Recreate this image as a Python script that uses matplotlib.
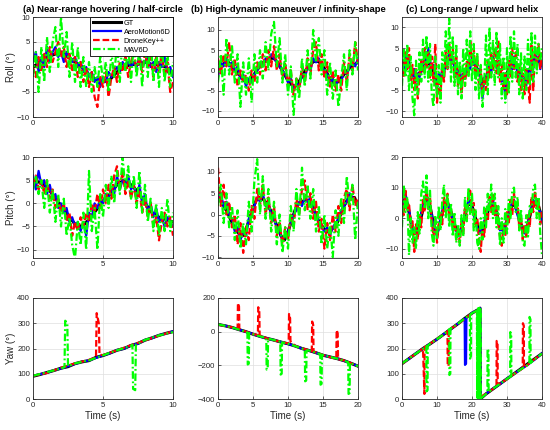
import numpy as np
import matplotlib
matplotlib.use('Agg')
import matplotlib.pyplot as plt

plt.rcParams['font.family'] = ['Liberation Sans', 'DejaVu Sans']

# ---------------- data ----------------
series_names = ['GT', 'AeroMotion6D', 'DroneKey++', 'MAV6D']
titles = ['(a) Near-range hovering / half-circle',
          '(b) High-dynamic maneuver / infinity-shape',
          '(c) Long-range / upward helix']
durations = [10, 20, 40]

# Roll (a)
roll_a_gt = [0, 1, 2, 2.5, 3, 2, 1, 0, -1.5, -2.5, -3, -2.5, -1, 0, 0.5, 0.5, 1, 0.5, 0.5, 0, -1.5]
roll_a_blue = [1, 3, -1, 2, 0, 4, 1, 3, 4, 2, 3, 1, 3, 2, 1, 2, 0, 1, -1, 0, -2, -1, -3, -2, -4, -2, -3, -1, -2, -1,
               0, -1, 1, 0, 1, 0, 1, 0, 2, 0, 1, 2, 0, 1, -1, 1, 0, 2, -1, 0, -2]
roll_a_red = [0, -2, 2, -1, 3, 0, 4, 1, 3, 5, 2, 4, 0, 3, -1, 2, -2, 1, -3, 0, -4, -1, -6, -8, -2, -4, -1, -6, -2, 0,
              -3, 1, -1, 2, -2, 1, 3, -1, 2, -1, 3, 0, 2, -2, 2, -1, 3, -2, 1, -5, -3]
roll_a_green = [-2, 3, -5, 4, -3, 6, -1, 5, 8, 0, 10, 2, 7, -2, 5, -3, 4, -4, 2, -4, 1, -5, 0, -4, 2, -3, 1, -5, 3, -2,
                5, -3, 6, -1, 4, -3, 5, -2, 4, -4, 5, -2, 6, -3, 4, -4, 5, -3, 3, -4, 1]

# Pitch (a)
pitch_a_gt = [5, 4.5, 3.5, 1.5, -0.5, -2.5, -4.5, -5, -3.5, -1.5, 0.5, 2, 4, 5, 4, 2.5, 0, -2, -3, -3.5, -4]
pitch_a_blue = [6, 3, 7, 4, 5, 2, 4, 1, 2, -1, 0, -2, -1, -4, -3, -5, -4, -6, -4, -7, -2, -3, 0, -1, 1, 0, 2, 1, 3, 2,
                6, 3, 5, 4, 6, 3, 4, 1, 4, 0, 2, -2, 0, -3, -1, -4, -3, -5, -3, -4, -5]
pitch_a_red = [4, 6, 3, 5, 2, 5, 1, 3, -1, 1, -2, 0, -4, -2, -7, -4, -6, -3, -5, -2, -4, 0, -2, 2, -1, 3, 0, 4, 1, 6,
               8, 3, 7, 2, 5, 1, 4, 0, 3, -2, 1, -3, 0, -5, -3, -8, -4, -2, -5, -3, -7]
pitch_a_green = [3, 6, 2, 5, -1, 5, -2, 3, -4, 2, -5, 1, -7, -3, -9, -12, -4, -9, -2, -10, 7, -6, -1, -10, 2, -3, 4, -1, 6, 0,
                 7, 2, 10, 3, 8, 1, 6, -1, 7, -2, 4, -4, 1, -6, 0, -7, -1, -6, 1, -6, -2]

# Roll (b)
roll_b_gt = [0, 1, 2, 2, 1, 0, -1, -2, -3, -2.5, -1.5, 0, 1, 2, 2.5, 3, 3, 2, 0.5, -1, -2.5, -3.5, -4, -3, -1.5, 0, 1, 2,
             2.5, 2, 1, -0.5, -2, -3, -3, -2, -1, 0, 1, 1.5, 2]
roll_b_blue = [-1.5, 2, 1, 3, 1, 2, 0, 1, -2, -1, -4, -2, -3, -1, 0, 2, 1, 3, 2, 4, 3, 2, 1, 0, -1, -3, -2, -5, -3, -4,
               -1, -2, 1, 0, 3, 2, 3, 1, 0, -1, -3, -2, -4, -2, -3, 0, -1, 1, 2, 1, 3]
roll_b_red = [3, -1, 4, 1, 7, -1, 3, -4, 0, -3, -1, -5, 0, -3, 2, -1, 4, 0, 5, 1, 6, 0, 4, -2, 2, -4, 0, -6, -2, -5,
              1, -3, 3, -1, 5, 7, 0, 4, -2, 2, -4, 0, -5, -1, -5, 2, -3, 4, 0, 7, 2]
roll_b_green = [-3, 4, -6, 8, -1, 6, -3, 4, -9, 2, -6, 3, -8, 4, -3, 5, -2, 7, 0, 9, 12, 1, 8, -3, 4, -6, 1, -11, -2, -7,
                3, -4, 5, -2, 10, 2, 8, -1, 5, -6, 2, -7, 0, -9, -2, 4, -5, 5, -1, 7, 0]

# Pitch (b)
pitch_b_gt = [4, 3, 1.5, 0, -2, -3.5, -4.5, -5, -3.5, -1, 1.5, 3.5, 4, 3.5, 2.5, 1, -1, -3, -5, -6, -4, -1.5, 1, 2.5, 3,
              3.5, 3, 2, 0, -2, -3, -4, -4, -3, -2, 0, 2, 3.5, 4, 4, 2]
pitch_b_blue = [4, 5, 2, 3, 0, -1, -4, -3, -6, -4, -5, -1, 0, 2, 4, 3, 5, 2, 3, 0, -1, -3, -4, -6, -5, -4, -2, 0, 1, 3,
                2, 4, 3, 4, 1, 0, -2, -3, -4, -3, -5, -3, -2, -1, 1, 2, 3, 5, 4, 3, 2]
pitch_b_red = [11, 2, 7, 0, 3, -3, 0, -7, -2, -9, -3, -6, 2, -1, 6, 2, 7, 0, 4, -2, 2, -5, -2, -7, -3, -6, 0, -3, 4, 0,
               6, 8, 1, 5, -1, 3, -4, -1, -8, -2, -6, 0, -4, 2, -2, 4, 6, 1, 7, 2, 4]
pitch_b_green = [2, 7, -2, 5, -3, 2, -6, 1, -8, -2, -7, 3, -4, 8, 13, 0, 9, -1, 6, -4, 3, -7, 0, -9, -3, -8, 2, -4, 6, -1,
                 11, 1, 7, -1, 6, -4, 2, -7, 0, -8, -2, -10, 1, -5, 4, -2, 9, 2, 7, -6, 3]

# Roll (c)
roll_c_gt = [0, 2, 1, -1, -2, -1, 1, 2, 1, -1, -3, -2, 0, 2, 3, 1, -1, -2, -1, 1, 2, 1, -1, -3, -2, 0, 2, 1, -1, -2,
             -1, 1, 2, 0, -2, -3, -1, 1, 3, 2, 1]
roll_c_blue = [1, -1, 3, 1, 2, 0, -2, 0, -3, -1, -2, 0, 1, 3, 1, 5, 2, 0, 1, -2, -5, -1, -3, 0, -1, 2, 1, 4, 2, 3,
               0, 1, -2, 0, -3, -1, -2, 0, 2, 0, 3, 1, 2, -1, 0, -3, -7, -2, -3, 0, 1, -1, 3, 1, 2, -1, 0, -3, -1, -7,
               -2, 0, 2, 0, 3, 1, -1, -2, -1, -4, -2, -4, 0, -3, 2, 0, 4, 2, 3, 0, 2]
roll_c_red = [2, -2, 4, 0, 5, -3, 1, -5, 0, -7, -2, 2, -1, 5, 0, 4, -2, 3, -3, 6, -8, -3, -6, 1, -3, 4, 0, 6, 1, 5,
              -2, 3, -4, 0, -6, -1, -4, 2, -1, 7, 1, 5, -1, 3, -4, 0, -6, -2, -5, 2, -2, 4, 0, 5, -1, 7, -3, 1, -5, -1,
              -6, 2, -2, 5, 0, 4, -3, 1, -5, -1, -6, 0, -3, -8, 6, -5, 5, 1, 6, 0, 4]
roll_c_green = [-4, 5, -2, 6, -5, 3, -7, -11, 2, -6, 4, -3, 7, -2, 8, -3, 6, -6, -9, 3, -7, 1, -8, 4, -2, 9, 0, 12, -3, 8,
                -4, 6, -6, 2, -7, 5, -4, 7, -2, 9, -3, 6, -5, 4, -7, 1, -9, -3, 8, -6, 10, -2, 7, -4, 9, -2, 6, -7, 3, -8,
                5, -6, 8, -3, 9, -2, 6, -6, 4, -7, 3, -5, 7, -4, 9, -3, 8, -1, 6, 2, 5]

# Pitch (c)
pitch_c_gt = [3, 7, 2, -4, -5, -2, 3, 7, 4, -2, -5, -1, 4, 5, 2, -2, -5, -4, 1, 5, 4, 0, -4, -4, 0, 4, 5, 2, -3, -4,
              -1, 3, 5, 2, -2, -4, -2, 3, 5, 4, 0]
pitch_c_blue = [5, 4, 8, 5, 3, -1, -3, -5, -4, -6, -1, 2, 4, 6, 8, 5, 3, 1, -3, -4, -6, -3, 0, 2, 5, 4, 6, 3, 1, 0,
                -3, -4, -6, -4, -3, -1, 2, 3, 6, 5, 3, 1, -1, -3, -5, -4, -3, -1, 1, 3, 5, 4, 6, 3, 1, -1, -4, -3, -5, -2,
                0, 2, 4, 5, 6, 3, 1, -1, -3, -4, -5, -3, -1, 2, 4, 6, 5, 6, 3, 2, -1]
pitch_c_red = [6, 1, 9, 3, 5, -3, -1, -11, -2, -7, 1, -3, 6, 2, 10, 3, 7, -1, -6, 0, -8, -2, 2, -2, 7, 2, 8, 0, 3, -3,
               -1, -7, -3, -8, -1, -5, 4, 0, 8, 9, 2, 5, -3, 0, -7, -11, -2, -6, 3, -1, 7, 2, 8, 1, 4, -2, -6, -9, -2, -6,
               2, -2, 6, 1, 8, 3, 5, -3, 0, -7, -2, -6, 1, -3, 7, 2, 9, 3, 6, -2, 2]
pitch_c_green = [-3, 11, 2, 7, -12, 0, -8, -3, -10, 2, -5, 8, 12, 3, 14, 0, 9, -5, -9, 1, -7, 4, -4, 6, 11, 0, 8, -3, 5, -6,
                 2, -8, -2, -9, 1, -6, 7, -1, 10, 1, 8, -4, 3, -8, -10, 0, -7, 4, -3, 8, 2, 11, 0, 8, -3, 4, -9, 0, -8, 3,
                 -5, 6, 0, 9, 10, 2, 7, -4, 3, -8, -9, 1, -6, 4, 2, 10, 11, 0, 7, -5, -12]

# Yaw (a)
yaw_a_gt = [90, 97, 105, 113, 122, 128, 140, 147, 152, 165, 172, 182, 193, 200, 212, 220, 233, 242, 252, 260, 267]
yaw_a_blue = [92, 98, 104, 114, 121, 130, 139, 148, 153, 163, 173, 181, 194, 199, 213, 219, 234, 241, 253, 259, 268]
yaw_a_red_t = [0, 1, 2, 3, 4, 4.5, 4.55, 4.7, 4.75, 5, 6, 7, 8, 9, 10]
yaw_a_red = [92, 103, 124, 141, 155, 165, 340, 300, 175, 174, 193, 213, 232, 251, 268]
yaw_a_green_t = [0, 1, 2, 2.25, 2.3, 2.45, 2.5, 3, 4, 5, 6, 7, 7.1, 7.15, 7.3, 7.35, 8, 9, 10]
yaw_a_green = [92, 106, 121, 126, 310, 300, 130, 141, 153, 173, 193, 210, 215, 40, 35, 215, 234, 252, 265]

# Yaw (b)
yaw_b_gt = [43, 35, 25, 12, 0, -15, -28, -40, -50, -62, -72, -85, -100, -112, -125, -140, -150, -160, -172, -188, -205]
yaw_b_blue = [42, 36, 24, 13, -1, -14, -29, -39, -51, -61, -73, -84, -101, -111, -126, -139, -151, -159, -173, -187, -204]
yaw_b_red_t = [0, 1, 2, 2.8, 2.85, 3.0, 3.05, 4, 5, 5.7, 5.75, 5.9, 5.95, 7, 8, 9, 10, 10.1, 10.15, 10.3, 10.35,
               11, 12, 13, 13.4, 13.45, 13.6, 13.65, 14, 15, 16, 16.9, 16.95, 17.1, 17.15, 18, 19, 20]
yaw_b_red = [42, 34, 26, 15, 170, 150, 14, 0, -14, -20, 145, 120, -22, -40, -51, -61, -70, -56, 105, 80, -58,
             -84, -99, -110, -117, 60, 40, -119, -124, -139, -151, -161, 10, -10, -163, -171, -187, -204]
yaw_b_green_t = [0, 1, 2, 3, 4, 4.2, 4.25, 4.4, 4.45, 5, 6, 6.9, 6.95, 7.1, 7.15, 8, 8.9, 8.95, 9.1, 9.15, 10, 11, 12,
                 12.4, 12.45, 12.6, 12.65, 13, 14, 14.6, 14.65, 14.8, 14.85, 15, 16, 17, 18, 18.6, 18.65, 18.8, 18.85, 19, 20]
yaw_b_green = [43, 35, 25, 12, 0, -5, -195, -190, -8, -15, -28, -38, -225, -220, -41, -50, -60, -255, -250, -63, -72, -85,
               -100, -108, -295, -290, -111, -112, -125, -134, -315, -310, -136, -140, -150, -160, -172, -182, -370, -365,
               -184, -188, -205]

# Yaw (c)
yaw_c_gt_t = [0, 2, 4, 6, 8, 10, 12, 14, 16, 18, 20, 22, 22.3, 22.35, 24, 26, 28, 30, 32, 34, 36, 38, 40]
yaw_c_gt = [140, 160, 180, 200, 218, 237, 257, 278, 298, 320, 340, 356, 360, 0, 20, 40, 60, 80, 100, 120, 140, 160, 180]
yaw_c_blue_t = [0, 2, 4, 6, 8, 10, 12, 14, 16, 17.9, 18.0, 18.3, 18.4, 20, 22, 22.3, 22.35, 24, 26, 28, 30, 32, 34, 36,
                38, 40]
yaw_c_blue = [141, 159, 181, 199, 219, 236, 258, 277, 299, 318, 135, 140, 321, 341, 355, 360, 2, 21, 41, 59, 81, 99, 118,
              136, 157, 181]
yaw_c_red_t = [0, 2, 4, 6, 6.4, 6.45, 8, 10, 12, 13.0, 13.05, 13.3, 13.35, 14, 16, 18, 20, 21.7, 21.75, 24, 26,
               27.0, 27.05, 27.3, 27.35, 28, 30, 32, 34, 34.5, 34.55, 34.8, 34.85, 36, 38, 40]
yaw_c_red = [139, 161, 179, 200, 20, 205, 219, 238, 256, 268, 140, 130, 272, 279, 297, 319, 339, 352, 3, 21, 40,
             52, 230, 220, 55, 61, 79, 99, 117, 122, 300, 290, 125, 137, 159, 179]
yaw_c_green_t = [0, 2, 4, 6, 6.95, 7.0, 7.3, 7.35, 8, 10, 12, 13.5, 13.55, 13.8, 13.85, 14, 16, 18, 19.4, 19.45, 19.7,
                 19.75, 20, 21.4, 21.5, 21.6, 21.7, 21.8, 21.9, 22.0, 22.1, 22.2, 22.3, 22.4, 22.5, 22.6, 24, 24.4, 24.45,
                 24.7, 24.75, 26, 28, 30, 30.9, 30.95, 31.2, 31.25, 32, 34, 36, 36.4, 36.45, 36.7, 36.75, 38, 40]
yaw_c_green = [141, 160, 180, 199, 209, 30, 35, 211, 219, 237, 257, 276, 95, 100, 278, 280, 299, 320, 334, 160, 170, 337,
               340, 350, 5, 358, 3, 360, 0, 360, 2, 358, 0, 360, 5, 3, 20, 24, 200, 190, 27, 41, 60, 80, 88, 265, 255, 90,
               99, 118, 135, 140, 325, 315, 143, 158, 180]

# ---------------- styling ----------------
C_GT, C_B, C_R, C_G = 'black', (0, 0, 1), (1, 0, 0), (0, 1, 0)
LW_GT, LW = 2.2, 1.6


def even_t(vals, T):
    return np.linspace(0, T, len(vals))


def draw(ax, gt, blue, red, green):
    l0, = ax.plot(gt[0], gt[1], color=C_GT, lw=LW_GT, label=series_names[0])
    l1, = ax.plot(blue[0], blue[1], color=C_B, lw=LW, label=series_names[1])
    l2, = ax.plot(red[0], red[1], color=C_R, lw=LW, ls=(0, (3.0, 1.3)), label=series_names[2])
    l3, = ax.plot(green[0], green[1], color=C_G, lw=LW, ls=(0, (3.4, 1.2, 0.8, 1.2)), label=series_names[3])
    return [l0, l1, l2, l3]


def style(ax, T, ylim, yticks, xticks):
    ax.set_xlim(0, T)
    ax.set_ylim(*ylim)
    ax.set_xticks(xticks)
    ax.set_yticks(yticks)
    ax.grid(True, color='#dedede', lw=0.5)
    ax.set_axisbelow(True)
    ax.tick_params(direction='in', length=2.5, width=0.5, labelsize=5.6, colors='#262626', pad=2)
    for s in ax.spines.values():
        s.set_linewidth(0.6)
        s.set_color('#262626')


fig = plt.figure(figsize=(5.5, 4.3), dpi=100)
W, H = 550.0, 430.0
col_left = [33, 218, 402]
row_tb = [(17, 117), (157, 258), (298, 399)]
axes = [[None] * 3 for _ in range(3)]
for r in range(3):
    for c in range(3):
        t, b = row_tb[r]
        axes[r][c] = fig.add_axes([col_left[c] / W, 1 - b / H, 140 / W, (b - t) / H])

xt = [[0, 5, 10], [0, 5, 10, 15, 20], [0, 10, 20, 30, 40]]

rolls = [(roll_a_gt, roll_a_blue, roll_a_red, roll_a_green),
         (roll_b_gt, roll_b_blue, roll_b_red, roll_b_green),
         (roll_c_gt, roll_c_blue, roll_c_red, roll_c_green)]
pitches = [(pitch_a_gt, pitch_a_blue, pitch_a_red, pitch_a_green),
           (pitch_b_gt, pitch_b_blue, pitch_b_red, pitch_b_green),
           (pitch_c_gt, pitch_c_blue, pitch_c_red, pitch_c_green)]
roll_ylim = [(-10, 10), (-11.5, 13.2), (-11.4, 12.4)]
pitch_ylim = [(-11.8, 10), (-10.2, 13.5), (-13, 20)]
pitch_yt = [[-10, -5, 0, 5, 10], [-10, -5, 0, 5, 10], [-10, 0, 10, 20]]

handles = None
for c in range(3):
    T = durations[c]
    g, bl, rd, gr = rolls[c]
    h = draw(axes[0][c], (even_t(g, T), g), (even_t(bl, T), bl), (even_t(rd, T), rd), (even_t(gr, T), gr))
    if c == 0:
        handles = h
    style(axes[0][c], T, roll_ylim[c], [-10, -5, 0, 5, 10], xt[c])
    g, bl, rd, gr = pitches[c]
    draw(axes[1][c], (even_t(g, T), g), (even_t(bl, T), bl), (even_t(rd, T), rd), (even_t(gr, T), gr))
    style(axes[1][c], T, pitch_ylim[c], pitch_yt[c], xt[c])

draw(axes[2][0], (even_t(yaw_a_gt, 10), yaw_a_gt), (even_t(yaw_a_blue, 10), yaw_a_blue),
     (yaw_a_red_t, yaw_a_red), (yaw_a_green_t, yaw_a_green))
style(axes[2][0], 10, (0, 400), [0, 100, 200, 300, 400], xt[0])
draw(axes[2][1], (even_t(yaw_b_gt, 20), yaw_b_gt), (even_t(yaw_b_blue, 20), yaw_b_blue),
     (yaw_b_red_t, yaw_b_red), (yaw_b_green_t, yaw_b_green))
style(axes[2][1], 20, (-400, 200), [-400, -200, 0, 200], xt[1])
draw(axes[2][2], (yaw_c_gt_t, yaw_c_gt), (yaw_c_blue_t, yaw_c_blue),
     (yaw_c_red_t, yaw_c_red), (yaw_c_green_t, yaw_c_green))
style(axes[2][2], 40, (0, 400), [0, 100, 200, 300, 400], xt[2])

for r, lab in enumerate(['Roll (°)', 'Pitch (°)', 'Yaw (°)']):
    axes[r][0].set_ylabel(lab, fontsize=7, color='#262626', labelpad=1)
for c in range(3):
    axes[2][c].set_xlabel('Time (s)', fontsize=7, color='#262626', labelpad=1.5)
    x0 = (col_left[c] + 70) / W
    fig.text(x0, 1 - 9.5 / H, titles[c], ha='center', va='center', fontsize=6.8, fontweight='bold')

leg = axes[0][0].legend(handles=handles, loc='upper right', fontsize=5.3, borderaxespad=0,
                        handlelength=3.8, labelspacing=0.25, handletextpad=0.4, borderpad=0.35,
                        fancybox=False, edgecolor='black', framealpha=1)
leg.get_frame().set_linewidth(0.6)

fig.savefig('out.png', dpi=100)
